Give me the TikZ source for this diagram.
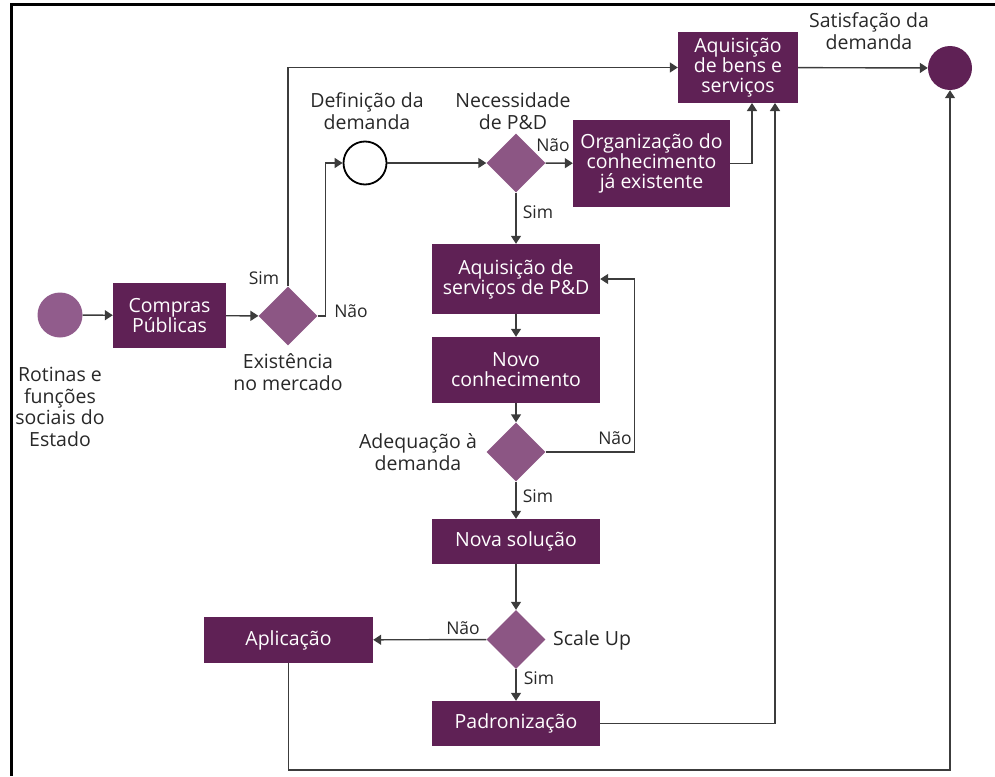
\documentclass[tikz,border=0pt]{standalone}
\usepackage{fontspec}
\setmainfont{Open Sans}
\usetikzlibrary{shapes.geometric,arrows.meta}
\definecolor{boxc}{RGB}{95,33,85}
\definecolor{diac}{RGB}{140,86,132}
\definecolor{startc}{RGB}{145,92,140}
\definecolor{txtc}{RGB}{40,40,40}
\definecolor{linec}{RGB}{60,60,60}
\tikzset{
  box/.style={rectangle, fill=boxc, text=white, inner sep=0pt, align=center,
    font=\fontsize{19.5}{20}\selectfont},
  dia/.style={diamond, fill=diac, inner sep=0pt, minimum width=59pt, minimum height=59pt},
  lbl/.style={text=txtc, inner sep=0pt, align=center, font=\fontsize{19.5}{21.5}\selectfont},
  small/.style={text=txtc, inner sep=0pt, font=\fontsize{17.5}{18}\selectfont},
  conn/.style={draw=linec, line width=1.4pt, -{Triangle[width=10pt,length=8pt]}},
  frameline/.style={draw=black, line width=3pt}
}
\begin{document}
\begin{tikzpicture}[x=1pt,y=-1pt]
\useasboundingbox (0,0) rectangle (995,776);
% frame
\draw[frameline] (10,5) -- (995,5);
\draw[frameline] (11,5) -- (11,776);
% nodes
\node[circle, fill=startc, minimum size=45pt, inner sep=0pt] (start) at (60,315) {};
\node[lbl] (rot) at (60,407) {Rotinas e\\funções\\sociais do\\Estado};
\node[box, minimum width=113pt, minimum height=65pt] (compras) at (169.5,315.5) {Compras\\Públicas};
\node[dia] (d1) at (288,316) {};
\node[lbl] (exist) at (288,372) {Existência\\no mercado};
\node[circle, draw=black, line width=1.8pt, fill=white, minimum size=43pt, inner sep=0pt] (def) at (365,163) {};
\node[lbl] (deflbl) at (367,111) {Definição da\\demanda};
\node[dia] (d2) at (516,163) {};
\node[lbl] (nec) at (513,111) {Necessidade\\de P\&D};
\node[box, minimum width=157pt, minimum height=87pt] (org) at (651.5,163.5) {Organização do\\conhecimento\\já existente};
\node[box, minimum width=120pt, minimum height=71pt] (bens) at (738,67.5) {Aquisição\\de bens e\\serviços};
\node[circle, fill=boxc, minimum size=44pt, inner sep=0pt] (end) at (950,68) {};
\node[lbl] (sat) at (869,31) {Satisfação da\\demanda};
\node[box, minimum width=168pt, minimum height=70pt] (aqs) at (516,279) {Aquisição de\\serviços de P\&D};
\node[box, minimum width=168pt, minimum height=66pt] (novo) at (516,370) {Novo\\conhecimento};
\node[dia] (d3) at (516,452) {};
\node[lbl] (adeq) at (418,452) {Adequação à\\demanda};
\node[box, minimum width=168pt, minimum height=45pt] (nova) at (516,541.5) {Nova solução};
\node[dia] (d4) at (516,639.5) {};
\node[lbl, anchor=west] (scale) at (553,640) {Scale Up};
\node[box, minimum width=169pt, minimum height=46pt] (apl) at (288.5,640) {Aplicação};
\node[box, minimum width=168pt, minimum height=45pt] (pad) at (516,723.5) {Padronização};
% label nodes for branches
\node[small] (s1) at (264,278) {Sim};
\node[small] (n1) at (351,311) {Não};
\node[small] (n2) at (553,145) {Não};
\node[small] (s2) at (538,212) {Sim};
\node[small] (n3) at (615,438) {Não};
\node[small] (s3) at (538,496) {Sim};
\node[small] (n4) at (463,628) {Não};
\node[small] (s4) at (539,678) {Sim};
% helper coordinates
\coordinate (inA) at (752,103);
\coordinate (inB) at (775,103);
\coordinate (cb) at (950,770);
% connectors
\draw[conn] (start) -- (compras);
\draw[conn] (compras) -- (d1);
\draw[conn] (d1.north) |- (bens.west);
\draw[conn] (d1.east) -- ++(8,0) |- (def.west);
\draw[conn] (def) -- (d2);
\draw[conn] (d2) -- (org);
\draw[conn] (org.east) -| (inA);
\draw[conn] (bens) -- (end);
\draw[conn] (d2) -- (aqs);
\draw[conn] (aqs) -- (novo);
\draw[conn] (novo) -- (d3);
\draw[conn] (d3.east) -- ++(89,0) |- (aqs.east);
\draw[conn] (d3) -- (nova);
\draw[conn] (nova) -- (d4);
\draw[conn] (d4) -- (apl);
\draw[conn] (d4) -- (pad);
\draw[conn] (pad.east) -| (inB);
\draw[conn] (apl.south) |- (cb) -- (end.south);
\end{tikzpicture}
\end{document}
